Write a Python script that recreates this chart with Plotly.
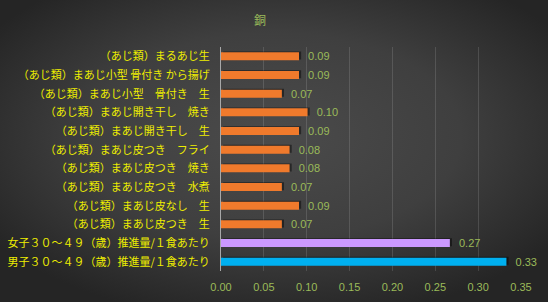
import base64
import plotly.graph_objects as go

categories = [
    "男子３０～４９（歳）推進量/１食あたり",
    "女子３０～４９（歳）推進量/１食あたり",
    "（あじ類）まあじ皮つき　生",
    "（あじ類）まあじ皮なし　生",
    "（あじ類）まあじ皮つき　水煮",
    "（あじ類）まあじ皮つき　焼き",
    "（あじ類）まあじ皮つき　フライ",
    "（あじ類）まあじ開き干し　生",
    "（あじ類）まあじ開き干し　焼き",
    "（あじ類）まあじ小型　骨付き　生",
    "（あじ類）まあじ小型 骨付き から揚げ",
    "（あじ類）まるあじ生",
]
values = [0.333, 0.267, 0.071, 0.091, 0.071, 0.08, 0.08, 0.091, 0.101, 0.071, 0.091, 0.091]
labels = ["0.33", "0.27", "0.07", "0.09", "0.07", "0.08", "0.08", "0.09", "0.10", "0.07", "0.09", "0.09"]
bar_colors = ["#00B0F0", "#CC99FF"] + ["#F07A2C"] * 10
x_ticks = [0, 0.05, 0.10, 0.15, 0.20, 0.25, 0.30, 0.35]
tick_text = ["0.00", "0.05", "0.10", "0.15", "0.20", "0.25", "0.30", "0.35"]
title = "銅"

W, H = 548, 302
ML, MR, MT, MB = 221, 27, 47, 31
PW, PH = W - ML - MR, H - MT - MB

svg = f'''<svg xmlns="http://www.w3.org/2000/svg" width="{W}" height="{H}" viewBox="0 0 {W} {H}" preserveAspectRatio="none">
<defs><radialGradient id="g" cx="0.5" cy="0.45" r="0.62" gradientUnits="objectBoundingBox">
<stop offset="0" stop-color="#4b4b4b"/><stop offset="0.55" stop-color="#3f3f3f"/><stop offset="1" stop-color="#252525"/>
</radialGradient></defs><rect width="{W}" height="{H}" fill="url(#g)"/></svg>'''
src = "data:image/svg+xml;base64," + base64.b64encode(svg.encode()).decode()

font_jp = "Noto Sans CJK JP"
fig = go.Figure()
fig.add_trace(go.Bar(
    y=categories, x=values, base=0.0025, orientation="h",
    marker=dict(color="rgba(0,0,0,0.45)", line=dict(width=0)),
    width=0.43, offset=-0.17, hoverinfo="skip", showlegend=False,
))
fig.add_trace(go.Bar(
    y=categories, x=values, orientation="h",
    marker=dict(color=bar_colors, line=dict(width=0)),
    width=0.43,
    text=["\u00a0\u00a0" + t for t in labels], textposition="outside", cliponaxis=False,
    constraintext="none",
    textfont=dict(color="#9BBB59", size=11, family="Liberation Sans, Arial"),
    showlegend=False,
))
fig.update_layout(
    width=W, height=H, barmode="overlay",
    margin=dict(l=ML, r=MR, t=MT, b=MB, autoexpand=False),
    paper_bgcolor="#3a3a3a", plot_bgcolor="rgba(0,0,0,0)",
    title=dict(text=title, x=260 / W, xanchor="center", y=1 - 21 / H, yanchor="middle",
               font=dict(color="#9BBB59", size=12, family=font_jp)),
    images=[dict(source=src, xref="paper", yref="paper", x=-ML / PW, y=1 + MT / PH,
                 sizex=W / PW, sizey=H / PH, xanchor="left", yanchor="top",
                 sizing="stretch", layer="below")],
)
fig.update_xaxes(
    range=[0, 0.35], tickvals=x_ticks, ticktext=tick_text, automargin=False,
    tickfont=dict(color="#9BBB59", size=11, family="Liberation Sans, Arial"),
    showgrid=True, gridcolor="rgba(255,255,255,0.13)", gridwidth=1,
    zeroline=False, showline=False, ticks="", ticklabelstandoff=8,
)
fig.update_yaxes(
    categoryorder="array", categoryarray=categories, automargin=False,
    tickfont=dict(color="#EEEE00", size=11, family=font_jp),
    showgrid=False, showline=True, linecolor="#A8A8A8", linewidth=1,
    ticks="", ticklabelstandoff=8,
)
fig.write_html("out.html")
